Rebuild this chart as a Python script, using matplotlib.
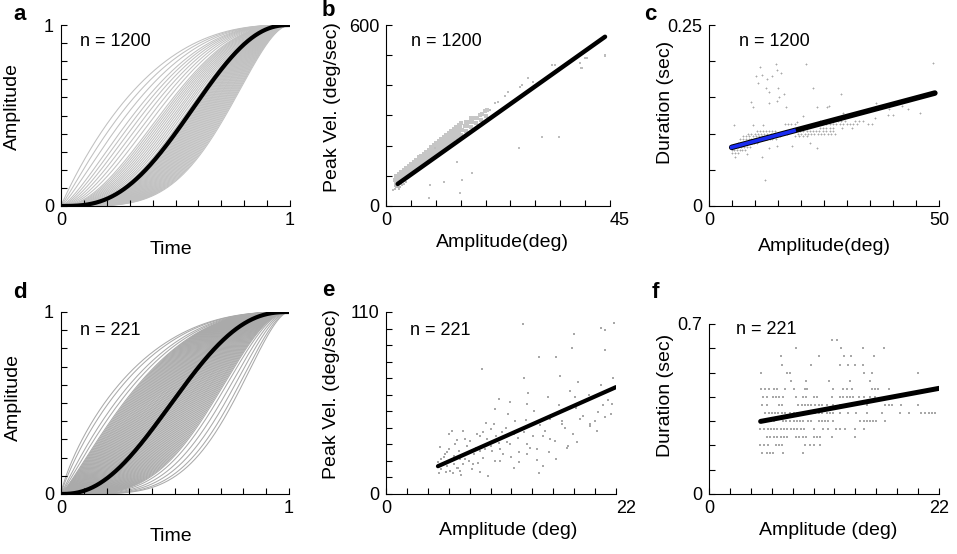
import numpy as np
import matplotlib
matplotlib.use('Agg')
import matplotlib.pyplot as plt

plt.rcParams['font.family'] = ['Liberation Sans', 'DejaVu Sans']

# ---- data ----
# a / d : time at which each normalised profile reaches half amplitude
half_times_a = [0.22, 0.25, 0.28, 0.31, 0.33, 0.35, 0.37, 0.39, 0.41, 0.43,
                0.44, 0.45, 0.46, 0.47, 0.48, 0.49, 0.50, 0.51, 0.52, 0.53, 0.54,
                0.545, 0.55, 0.555, 0.56, 0.565, 0.57, 0.575, 0.58, 0.585, 0.59,
                0.595, 0.60, 0.605, 0.61, 0.615, 0.62, 0.625, 0.63, 0.635, 0.64,
                0.645, 0.65, 0.655, 0.66, 0.665, 0.67, 0.675, 0.68, 0.685, 0.69,
                0.695, 0.70, 0.705, 0.71, 0.715, 0.72]
mean_half_time_a = 0.555
half_times_d = [0.18, 0.20, 0.23, 0.25,
                0.270, 0.276, 0.282, 0.288, 0.294, 0.300, 0.306, 0.312, 0.318, 0.324,
                0.330, 0.336, 0.342, 0.348, 0.354, 0.360, 0.366, 0.372, 0.378, 0.384,
                0.390, 0.396, 0.402, 0.408, 0.414, 0.420, 0.426, 0.432, 0.438, 0.444,
                0.450, 0.456, 0.462, 0.468, 0.474, 0.480, 0.486, 0.492, 0.498, 0.504,
                0.510, 0.516, 0.522, 0.528, 0.534, 0.540, 0.546, 0.552, 0.558, 0.564,
                0.570, 0.576, 0.582, 0.588, 0.594, 0.600, 0.606, 0.612, 0.618, 0.624,
                0.630, 0.636, 0.642, 0.648, 0.654, 0.660, 0.666,
                0.68, 0.70, 0.72, 0.74, 0.755]
mean_half_time_d = 0.485

# b : amplitude (deg) vs peak velocity (deg/sec)
# dense band of saccades just above the fit line
b_band_amp_inner = [2.0, 2.5, 3.0, 3.5, 4.0, 4.5, 5.0, 5.5, 6.0, 6.5, 7.0, 7.5, 8.0, 8.5,
                    9.0, 9.5, 10.0, 10.5, 11.0, 11.5, 12.0, 12.5, 13.0, 13.5, 14.0, 14.5,
                    15.0, 16.0, 17.0, 18.0, 19.0, 20.0]
b_band_inner = [77, 84, 90, 96, 101, 108, 114, 120, 127, 133, 138, 145, 151, 157,
                163, 170, 176, 181, 188, 194, 200, 206, 213, 219, 224, 231,
                237, 250, 261, 274, 286, 299]
b_band_amp_mid = [2.25, 2.75, 3.25, 3.75, 4.25, 4.75, 5.25, 5.75, 6.25, 6.75, 7.25, 7.75,
                  8.25, 8.75, 9.25, 9.75, 10.25, 10.75, 11.25, 11.75, 12.25, 12.75, 13.25,
                  13.75, 14.25, 14.75, 15.25, 16.25, 17.25, 18.25, 19.25, 20.25]
b_band_mid = [84, 91, 97, 104, 110, 117, 123, 130, 136, 143, 149, 155, 162, 168,
              175, 181, 188, 194, 200, 207, 213, 220, 226, 233, 239, 245,
              252, 265, 277, 291, 304, 317]
b_band_amp_outer = [1.9, 2.4, 2.9, 3.4, 3.9, 4.4, 4.9, 5.4, 5.9, 6.4, 6.9, 7.4, 7.9, 8.4,
                    8.9, 9.4, 9.9, 10.4, 10.9, 11.4, 11.9, 12.4, 12.9, 13.4, 13.9, 14.4,
                    14.9, 15.9, 16.9, 17.9, 18.9, 19.9]
b_band_outer = [86, 93, 99, 106, 112, 119, 126, 133, 140, 147, 153, 160, 166, 173,
                180, 187, 194, 200, 207, 214, 221, 228, 234, 241, 247, 254,
                261, 266, 279, 293, 303, 316]
b_band_amp_top = [2.1, 2.6, 3.1, 3.6, 4.1, 4.6, 5.1, 5.6, 6.1, 6.6, 7.1, 7.6, 8.1, 8.6,
                  9.1, 9.6, 10.1, 10.6, 11.1, 11.6, 12.1, 12.6, 13.1, 13.6, 14.1, 14.6,
                  15.1, 16.1, 17.1]
b_band_top = [100, 107, 113, 120, 126, 133, 140, 147, 154, 161, 167, 174, 180, 187,
              194, 201, 208, 214, 221, 228, 235, 242, 248, 255, 261, 268,
              275, 280, 293]
# low end and scattered outliers
b_amp = [1.5, 1.9, 2.1, 2.6, 2.9, 3.3, 3.7, 4.0, 1.8, 2.4,
         40.0, 43.9, 39.2, 31.3, 34.8, 26.7, 28.6, 27.0, 9.9, 14.2, 17.3, 15.2, 11.6,
         14.8, 8.7, 8.9, 20.9, 21.9, 22.5, 23.9, 24.5, 27.3, 28.5, 29.5, 33.3, 34.0,
         39.0, 39.3, 40.3, 44.0]
b_vel = [52, 56, 62, 58, 63, 68, 74, 78, 66, 64,
         489, 497, 456, 230, 230, 191, 423, 393, 191, 147, 110, 86, 81,
         42, 28, 70, 318, 341, 346, 365, 379, 401, 423, 412, 467, 467,
         475, 456, 490, 500]
b_fit_amp = [2.35, 44.0]
b_fit_vel = [73, 561]

# c : amplitude (deg) vs duration (sec)
c_amp = [11.1, 14.6, 21.0, 48.8, 14.7, 15.7, 10.2, 11.5, 13.6, 12.5, 10.7, 12.3, 15.0,
         22.6, 13.0, 16.3, 15.2, 14.8, 13.0, 9.1, 9.6, 16.7, 23.4, 25.6, 28.8, 26.1,
         36.2, 39.2, 41.9, 43.3, 45.9, 38.9, 39.9, 29.2, 36.1, 20.4, 5.4, 9.5, 11.7,
         19.1, 5.6, 8.3, 11.5, 13.0, 14.7, 18.0, 22.0, 23.4, 12.2]
c_dur = [0.192, 0.196, 0.196, 0.197, 0.188, 0.184, 0.180, 0.181, 0.180, 0.175, 0.170,
         0.163, 0.163, 0.163, 0.158, 0.155, 0.150, 0.145, 0.142, 0.143, 0.137, 0.137,
         0.137, 0.137, 0.155, 0.138, 0.142, 0.1335, 0.138, 0.1335, 0.129, 0.1257,
         0.1257, 0.129, 0.121, 0.125, 0.112, 0.112, 0.112, 0.116, 0.067, 0.0714, 0.067,
         0.080, 0.083, 0.083, 0.0875, 0.080, 0.036]
c_row_durs = [0.117, 0.113, 0.108, 0.104, 0.100, 0.096, 0.092, 0.087, 0.082, 0.077, 0.073]
c_row_amps = [
    [24.1, 24.8, 25.5, 26.3, 28.0, 28.8, 29.6, 31.7, 32.6, 33.5],
    [16.5, 17.2, 17.9, 18.7, 24.1, 24.8, 25.5, 26.2, 27.0, 27.7, 28.4, 29.1, 29.9,
     30.6, 31.4, 32.2, 34.6, 35.4],
    [24.1, 24.8, 25.5, 26.3, 27.0, 29.0, 31.0],
    [10.4, 11.0, 11.7, 12.3, 13.0, 13.6, 14.3, 19.8, 20.5, 21.2, 21.9, 22.6, 23.3,
     24.0, 24.8, 25.5, 26.2, 27.0],
    [8.5, 9.2, 9.9, 10.6, 11.3, 12.0, 12.7, 13.4, 14.1, 14.8, 15.5, 16.2, 17.0, 19.3,
     20.0, 20.8, 21.5, 22.2, 22.9, 23.6, 24.4, 25.1, 25.8, 26.6, 27.4],
    [7.4, 8.1, 8.8, 9.5, 10.2, 10.9, 11.6, 12.3, 13.0, 13.7, 14.4, 15.4, 18.7, 19.6,
     20.4, 21.3],
    [6.7, 7.3, 8.0, 8.6, 9.2, 9.8, 10.5, 11.1, 12.5, 13.2, 13.8, 14.5],
    [6.3, 6.9, 7.5, 8.1, 8.7, 9.3, 9.8, 10.4],
    [5.2, 5.8, 6.4, 7.0, 7.7, 8.3, 8.9],
    [4.9, 5.5, 6.1, 6.7, 7.2, 7.8],
    [4.9, 5.6, 6.3],
]
c_fit_amp = [4.93, 49.1]
c_fit_dur = [0.081, 0.156]
c_sub_amp = [4.93, 18.5]
c_sub_dur = [0.081, 0.104]

# e : amplitude (deg) vs peak velocity (deg/sec), n = 221
e_amp = [13.1, 21.8, 20.6, 20.9, 18.0, 17.8, 20.9, 14.6, 16.3, 9.2, 16.6, 13.2, 18.4,
         13.6, 15.5, 18.1, 10.8, 11.9, 13.5, 21.6, 10.4, 11.7, 20.9, 21.5, 15.7, 16.8,
         16.8, 19.5, 20.2, 9.6, 10.3, 10.0, 9.3, 7.4, 6.3, 6.0, 6.8, 7.6, 8.7, 11.1,
         12.2, 13.2, 14.1, 15.0, 15.7, 16.2, 17.4, 17.3, 18.3, 13.5, 14.4, 12.7, 12.0,
         10.9, 11.6, 10.0, 8.4, 9.0, 7.9, 7.1, 6.5, 5.8, 5.2, 5.5, 5.0, 5.3, 5.7, 5.1,
         6.1, 6.8, 6.5, 7.4, 7.1, 8.2, 9.0, 9.8, 10.9, 12.7, 14.6, 16.3, 15.6, 13.5,
         14.4, 17.9, 19.5, 20.3, 20.8, 18.6,
         5.3, 5.6, 6.0, 6.3, 6.6, 7.0, 7.3, 7.7, 8.0, 8.3, 8.6, 9.0, 9.3, 9.7, 10.1,
         10.5, 10.8, 11.2, 11.5, 11.9, 12.3, 12.6, 13.0, 13.4, 13.8, 14.2, 14.7, 15.2,
         15.8, 16.5, 17.1, 17.6, 18.2, 18.8, 19.4, 20.0, 20.6, 21.2, 21.7, 5.8, 6.9,
         7.6, 8.8, 9.5, 10.4, 6.4, 7.2, 12.2, 15.0]
e_vel = [102.9, 103.5, 100.3, 98.9, 96.9, 88.2, 87.2, 82.7, 82.7, 75.7, 71.2, 70.0,
         67.6, 60.9, 58.5, 58.5, 57.5, 55.5, 54.5, 54.1, 51.5, 48.4, 46.4, 48.4, 45.4,
         44.0, 42.4, 42.4, 38.3, 42.8, 42.4, 39.4, 37.3, 38.3, 37.9, 36.3, 32.7, 33.3,
         36.3, 37.3, 36.3, 37.3, 35.3, 35.3, 33.3, 32.3, 29.3, 27.8, 31.3, 30.3, 27.2,
         25.2, 22.2, 27.2, 31.3, 29.3, 24.2, 26.2, 20.2, 21.2, 23.2, 25.2, 28.3, 22.2,
         19.2, 15.1, 13.1, 12.5, 14.1, 15.7, 18.2, 18.2, 14.1, 15.1, 13.5, 10.7, 20.2,
         19.2, 12.5, 21.2, 25.2, 24.2, 20.6, 36.3, 41.4, 49.4, 53.5, 45.4,
         21, 24, 27, 20, 30, 26, 23, 29, 32, 18, 28, 35, 22, 33, 26,
         35, 31, 24, 40, 30, 44, 34, 40, 45, 28, 50, 42, 38,
         48, 54, 40, 62, 52, 47, 60, 44, 66, 57, 70, 17, 16,
         21, 19, 27, 20, 12.5, 11.5, 16, 17]
e_fit_amp = [4.97, 22.0]
e_fit_vel = [16.8, 64.6]

# f : amplitude (deg) vs duration (sec), n = 221
f_row_durs = [0.633, 0.600, 0.567, 0.533, 0.500, 0.467, 0.433, 0.400, 0.367, 0.333,
              0.300, 0.267, 0.233, 0.200, 0.167]
f_row_amps = [
    [11.8, 12.2],
    [8.3, 12.6, 14.7, 16.7],
    [6.9, 10.5, 12.9, 13.6, 15.8],
    [7.0, 9.8, 12.5, 13.3, 14.0, 14.7],
    [5.0, 7.5, 7.7, 14.8, 15.6, 20.0],
    [7.8, 9.3, 11.5, 13.5, 15.4],
    [5.0, 5.4, 5.7, 6.2, 6.5, 7.3, 8.1, 9.2, 9.4, 11.9, 12.8, 13.2, 13.7, 15.6, 15.9,
     16.2, 17.2],
    [5.2, 5.5, 6.1, 6.4, 6.7, 7.1, 8.3, 9.0, 9.3, 10.0, 10.3, 11.8, 12.5, 12.8, 13.2,
     13.5, 13.8, 14.3, 14.8, 15.4, 15.9, 17.0, 17.3],
    [5.1, 5.5, 6.7, 7.0, 8.5, 8.9, 9.2, 9.5, 9.8, 10.1, 10.5, 10.8, 11.3, 11.9, 12.5,
     13.4, 14.1, 15.1, 16.8, 17.2, 17.5, 18.4, 20.0],
    [5.4, 5.7, 6.0, 6.3, 6.6, 7.0, 7.3, 7.7, 8.1, 8.4, 8.7, 9.0, 9.3, 9.8, 10.1, 10.5,
     10.8, 11.3, 11.6, 11.9, 12.5, 13.3, 14.1, 15.1, 16.5, 18.3, 19.1, 20.3, 20.7,
     21.0, 21.3, 21.6],
    [5.3, 5.6, 5.9, 6.2, 7.1, 7.4, 7.7, 8.1, 8.4, 8.7, 9.0, 9.5, 9.8, 10.5, 10.8, 11.1,
     11.4, 11.9, 14.4, 14.8, 15.1, 15.4, 15.7, 16.0, 16.8],
    [4.9, 5.3, 5.6, 5.9, 6.2, 6.5, 6.9, 7.2, 7.5, 7.8, 8.1, 8.4, 8.8, 9.1, 10.0, 10.9,
     11.4, 12.1, 12.5, 13.0, 14.0, 14.8],
    [5.5, 5.8, 6.2, 6.5, 6.9, 7.2, 7.5, 8.3, 8.6, 9.0, 9.3, 10.0, 10.3, 10.6, 11.8, 14.0],
    [4.9, 5.3, 5.6, 6.4, 6.7, 7.0, 9.2, 9.7, 10.0, 10.6],
    [5.1, 5.5, 5.8, 6.1, 7.1, 9.0],
]
f_fit_amp = [4.94, 22.0]
f_fit_dur = [0.299, 0.435]


def profile(t_half, n=1200):
    # beta-shaped velocity profile, normalised position reaching 0.5 near t_half
    kappa = 2.2 + 6 * t_half
    a = t_half * (kappa - 2 / 3) + 1 / 3
    b = kappa - a
    edges = np.linspace(0, 1, n + 1)
    mids = (edges[:-1] + edges[1:]) / 2
    vel = mids**(a - 1) * (1 - mids)**(b - 1)
    pos = np.concatenate([[0], np.cumsum(vel)])
    return edges, pos / pos[-1]


def rows_to_xy(row_vals, row_lists):
    xs, ys = [], []
    for v, lst in zip(row_vals, row_lists):
        xs += lst
        ys += [v] * len(lst)
    return xs, ys


def style(ax, xlim, ylim, xlab, ylab, xstep, ystep, xlabpos, ylabpos, right_left=False):
    ax.set_xlim(xlim)
    ax.set_ylim(ylim)
    for s in ['top', 'right']:
        ax.spines[s].set_visible(False)
    for s in ['left', 'bottom']:
        ax.spines[s].set_linewidth(0.8)
    ax.set_xticks(list(xlim), labels=[f'{v:g}' for v in xlim])
    ax.set_yticks(list(ylim), labels=[f'{v:g}' for v in ylim])
    ax.set_xticks(np.arange(xstep, xlim[1] - xstep / 2, xstep), minor=True)
    ax.set_yticks(np.arange(ystep, ylim[1] - ystep / 2, ystep), minor=True)
    ax.tick_params(which='both', direction='in', length=4, width=0.8, labelsize=13)
    ax.tick_params(axis='x', pad=4)
    ax.tick_params(axis='y', pad=5)
    if right_left:
        ax.get_xticklabels()[-1].set_ha('left')
    ax.set_xlabel(xlab, fontsize=14, va='center')
    ax.set_ylabel(ylab, fontsize=14, va='center')
    ax.xaxis.set_label_coords(*xlabpos)
    ax.yaxis.set_label_coords(*ylabpos)


W, H = 957, 554
fig = plt.figure(figsize=(W / 100, H / 100), dpi=100)


def add_ax(l, r, t, b):
    return fig.add_axes([l / W, 1 - b / H, (r - l) / W, (b - t) / H])


axa = add_ax(61, 290, 25, 206)
axb = add_ax(386, 610, 25, 206)
axc = add_ax(709, 939, 25, 206)
axd = add_ax(61, 289, 312, 494)
axe = add_ax(386, 616, 312, 494)
axf = add_ax(709, 939, 324, 494)

nfs = 13

# a
for th in half_times_a:
    axa.plot(*profile(th), color='#c0c0c0', lw=0.75, zorder=1)
axa.plot(*profile(mean_half_time_a), color='k', lw=3, zorder=3)
style(axa, (0, 1), (0, 1), 'Time', 'Amplitude', 0.1, 0.1, (0.48, -0.243), (-0.21, 0.55))
axa.text(0.083, 0.91, 'n = 1200', transform=axa.transAxes, fontsize=nfs, va='center')

# b
for bx, by in [(b_band_amp_inner, b_band_inner), (b_band_amp_mid, b_band_mid),
               (b_band_amp_outer, b_band_outer), (b_band_amp_top, b_band_top)]:
    axb.scatter(bx, by, s=5, marker='s', color='#c6c6c6', linewidths=0, zorder=2)
axb.scatter(b_amp, b_vel, s=4, marker='s', color='#bdbdbd', linewidths=0, zorder=2)
axb.plot(b_fit_amp, b_fit_vel, color='k', lw=3.2, solid_capstyle='round', zorder=3)
style(axb, (0, 45), (0, 600), 'Amplitude(deg)', 'Peak Vel. (deg/sec)', 5, 100,
      (0.52, -0.204), (-0.241, 0.545), right_left=True)
axb.text(0.11, 0.91, 'n = 1200', transform=axb.transAxes, fontsize=nfs, va='center')

# c
cx, cy = rows_to_xy(c_row_durs, c_row_amps)
axc.scatter(c_amp + cx, c_dur + cy, s=3.5, marker='+', color='#a8a8a8', linewidths=0.6, zorder=2)
axc.plot(c_fit_amp, c_fit_dur, color='k', lw=4, solid_capstyle='round', zorder=3)
axc.plot(c_sub_amp, c_sub_dur, color='#1a2cf0', lw=2.6, zorder=4)
style(axc, (0, 50), (0, 0.25), 'Amplitude(deg)', 'Duration (sec)', 5, 0.05,
      (0.50, -0.221), (-0.191, 0.57))
axc.text(0.13, 0.91, 'n = 1200', transform=axc.transAxes, fontsize=nfs, va='center')

# d
for th in half_times_d:
    axd.plot(*profile(th), color='#aaaaaa', lw=0.75, zorder=1)
axd.plot(*profile(mean_half_time_d), color='k', lw=3, zorder=3)
style(axd, (0, 1), (0, 1), 'Time', 'Amplitude', 0.1, 0.1, (0.48, -0.231), (-0.21, 0.53))
axd.text(0.083, 0.90, 'n = 221', transform=axd.transAxes, fontsize=nfs, va='center')

# e
axe.scatter(e_amp, e_vel, s=4, marker='s', color='#a8a8a8', linewidths=0, zorder=2)
axe.plot(e_fit_amp, e_fit_vel, color='k', lw=3, solid_capstyle='round', zorder=3)
style(axe, (0, 22), (0, 110), 'Amplitude (deg)', 'Peak Vel. (deg/sec)', 2, 10,
      (0.53, -0.198), (-0.235, 0.55), right_left=True)
axe.text(0.104, 0.90, 'n = 221', transform=axe.transAxes, fontsize=nfs, va='center')

# f
fx, fy = rows_to_xy(f_row_durs, f_row_amps)
axf.scatter(fx, fy, s=4, marker='s', color='#a8a8a8', linewidths=0, zorder=2)
axf.plot(f_fit_amp, f_fit_dur, color='k', lw=3.6, solid_capstyle='round', zorder=3)
style(axf, (0, 22), (0, 0.7), 'Amplitude (deg)', 'Duration (sec)', 2, 0.1,
      (0.52, -0.212), (-0.191, 0.58))
axf.text(0.117, 0.965, 'n = 221', transform=axf.transAxes, fontsize=nfs, va='center')

# panel letters
for lab, x, y in [('a', 13, 14), ('b', 322, 10), ('c', 644, 15),
                  ('d', 13, 292), ('e', 322, 290), ('f', 652, 292)]:
    fig.text(x / W, 1 - y / H, lab, fontsize=16, fontweight='bold', va='center', ha='left')

fig.savefig('out.png', dpi=100)
